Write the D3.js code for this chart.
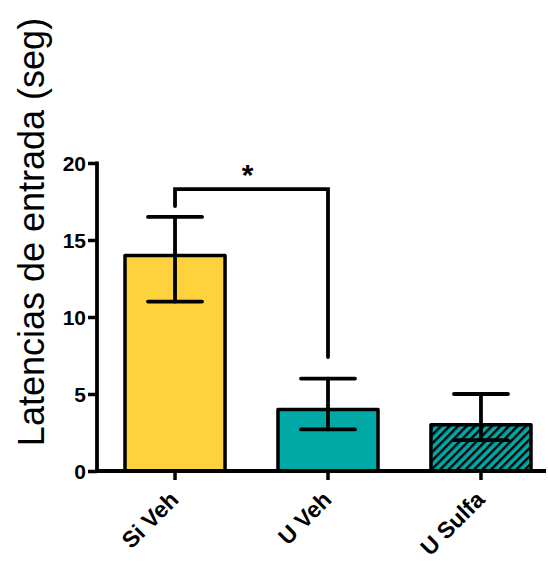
<!DOCTYPE html>
<html><head><meta charset="utf-8">
<script src="https://cdn.jsdelivr.net/npm/d3@7"></script>
<style>body{margin:0;background:#fff}svg{display:block}text{font-family:"Liberation Sans",Arial,sans-serif}</style>
</head><body><svg id="c" width="548" height="561"></svg>
<script>
const categories = ["Si Veh", "U Veh", "U Sulfa"];
const means = [14, 4, 3];
const errUpper = [16.5, 6, 5];
const errLower = [11, 2.7, 2];
const yTicks = [0, 5, 10, 15, 20];
const sigLabel = "*";
const yTitle = "Latencias de entrada (seg)";

const svg = d3.select("#c");
const y = d3.scaleLinear().domain([0, 20]).range([471, 163]);
const x = d3.scaleBand().domain(categories).range([99, 557]).paddingInner(0.346).paddingOuter(0.17);
const fills = ["#FDD23D", "#00A8A6", "url(#hatch)"];

const defs = svg.append("defs");
const pat = defs.append("pattern").attr("id", "hatch").attr("patternUnits", "userSpaceOnUse")
  .attr("width", 6).attr("height", 6).attr("patternTransform", "rotate(45)");
pat.append("rect").attr("width", 6).attr("height", 6).attr("fill", "#00A8A6");
pat.append("line").attr("x1", 1.2).attr("x2", 1.2).attr("y1", 0).attr("y2", 6).attr("stroke", "#000").attr("stroke-width", 2.4);

// bars
svg.selectAll("rect.bar").data(categories).join("rect").attr("class", "bar")
  .attr("x", d => x(d)).attr("width", x.bandwidth())
  .attr("y", (d, i) => y(means[i])).attr("height", (d, i) => y(0) - y(means[i]))
  .attr("fill", (d, i) => fills[i]).attr("stroke", "#000").attr("stroke-width", 3.5)
  .attr("stroke-linejoin", "round");

// error bars
const cx = d => x(d) + x.bandwidth() / 2;
const eb = svg.append("g").attr("stroke", "#000").attr("stroke-width", 3.8).attr("stroke-linecap", "round");
categories.forEach((d, i) => {
  eb.append("line").attr("x1", cx(d)).attr("x2", cx(d)).attr("y1", y(errUpper[i])).attr("y2", y(errLower[i]));
  eb.append("line").attr("x1", cx(d) - 27).attr("x2", cx(d) + 27).attr("y1", y(errUpper[i])).attr("y2", y(errUpper[i]));
  eb.append("line").attr("x1", cx(d) - 27).attr("x2", cx(d) + 27).attr("y1", y(errLower[i])).attr("y2", y(errLower[i]));
});

// axes
const ya = svg.append("g").attr("transform", "translate(97,0)")
  .call(d3.axisLeft(y).tickValues(yTicks).tickSize(9).tickPadding(2).tickFormat(d3.format("d")));
ya.select(".domain").remove();
ya.selectAll(".tick line").attr("stroke-width", 3.5);
ya.selectAll(".tick text").attr("font-size", 21).attr("font-weight", "bold").attr("fill", "#000")
  .attr("font-family", "Liberation Sans, Arial").attr("dy", "0.36em");
svg.append("line").attr("x1", 97).attr("x2", 97).attr("y1", y(20) - 1.5).attr("y2", y(0) + 1.8).attr("stroke", "#000").attr("stroke-width", 3.8);

const xa = svg.append("g").attr("transform", "translate(0,471)")
  .call(d3.axisBottom(x).tickSize(9).tickSizeOuter(0).tickFormat(""));
xa.select(".domain").remove();
xa.selectAll(".tick line").attr("stroke-width", 3.5);
svg.append("line").attr("x1", 95).attr("x2", 546).attr("y1", 471).attr("y2", 471).attr("stroke", "#000").attr("stroke-width", 3.8);

svg.append("g").selectAll("text").data(categories).join("text")
  .attr("transform", d => `translate(${cx(d) + 5},${501}) rotate(-45)`)
  .attr("text-anchor", "end").attr("font-size", 23).attr("font-weight", "bold").text(d => d);

// y title
svg.append("text").attr("transform", `translate(44,${232}) rotate(-90)`)
  .attr("text-anchor", "middle").attr("font-size", 36).text(yTitle);

// significance bracket
const b1 = cx(categories[0]), b2 = cx(categories[1]);
const by = y(18.3);
svg.append("path").attr("d", `M${b1},${y(17.2)}V${by}H${b2}V${y(7.4)}`)
  .attr("fill", "none").attr("stroke", "#000").attr("stroke-width", 3.8).attr("stroke-linecap", "round");
svg.append("text").attr("x", (b1 + b2) / 2 - 4).attr("y", by - 4).attr("text-anchor", "middle")
  .attr("font-size", 30).attr("font-weight", "bold").text(sigLabel);
</script></body></html>
